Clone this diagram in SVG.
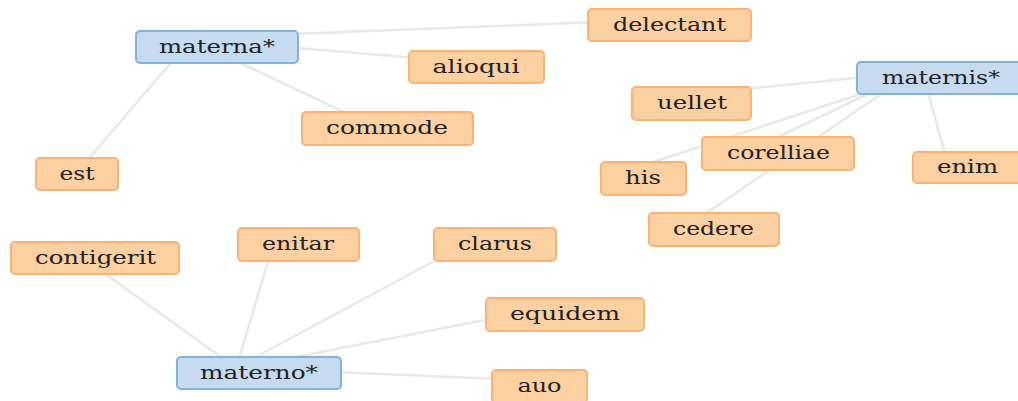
<svg xmlns="http://www.w3.org/2000/svg" width="1018" height="401" viewBox="0 0 1018 401">
<style>
.e{stroke:#e8e8e8;stroke-width:2.5;fill:none}
.o rect{fill:#fdd0a2;stroke:#fdb273;stroke-width:2}
.b rect{fill:#c6dbef;stroke:#7fb5dc;stroke-width:2}
text{font-family:"DejaVu Serif","Liberation Serif",serif;font-size:18px;fill:#222;text-anchor:middle}
</style>
<rect width="1018" height="401" fill="#fff"/>
<g id="connectors">
<line class="e" x1="240" y1="36" x2="650" y2="20"/>
<line class="e" x1="240" y1="43" x2="440" y2="60"/>
<line class="e" x1="230" y1="58" x2="350" y2="115"/>
<line class="e" x1="175" y1="58" x2="85" y2="163"/>
<line class="e" x1="100" y1="270" x2="225" y2="360"/>
<line class="e" x1="270" y1="255" x2="238" y2="362"/>
<line class="e" x1="440" y1="258" x2="250" y2="360"/>
<line class="e" x1="490" y1="319" x2="290" y2="358"/>
<line class="e" x1="335" y1="372" x2="500" y2="379"/>
<line class="e" x1="745" y1="89" x2="865" y2="77"/>
<line class="e" x1="650" y1="163" x2="870" y2="91"/>
<line class="e" x1="770" y1="141" x2="880" y2="88"/>
<line class="e" x1="705" y1="214" x2="890" y2="88"/>
<line class="e" x1="928" y1="92" x2="945" y2="154"/>
</g>
<g id="materna" class="b"><rect x="136" y="31" width="162" height="32" rx="4"/><text x="217" y="52.5" textLength="116" lengthAdjust="spacingAndGlyphs">materna*</text></g>
<g id="delectant" class="o"><rect x="588" y="9" width="163" height="32" rx="4"/><text x="669.5" y="30.5" textLength="113" lengthAdjust="spacingAndGlyphs">delectant</text></g>
<g id="alioqui" class="o"><rect x="409" y="51" width="135" height="32" rx="4"/><text x="476" y="72.5" textLength="87" lengthAdjust="spacingAndGlyphs">alioqui</text></g>
<g id="commode" class="o"><rect x="302" y="112" width="171" height="33" rx="4"/><text x="387" y="133.5" textLength="122" lengthAdjust="spacingAndGlyphs">commode</text></g>
<g id="est" class="o"><rect x="36" y="158" width="82" height="32" rx="4"/><text x="77" y="179.5" textLength="35" lengthAdjust="spacingAndGlyphs">est</text></g>
<g id="maternis" class="b"><rect x="857" y="62" width="166" height="32" rx="4"/><text x="941" y="83.5" textLength="118" lengthAdjust="spacingAndGlyphs">maternis*</text></g>
<g id="uellet" class="o"><rect x="632" y="87" width="119" height="33" rx="4"/><text x="692" y="108.5" textLength="70" lengthAdjust="spacingAndGlyphs">uellet</text></g>
<g id="corelliae" class="o"><rect x="702" y="137" width="152" height="33" rx="4"/><text x="778.5" y="158.5" textLength="103" lengthAdjust="spacingAndGlyphs">corelliae</text></g>
<g id="his" class="o"><rect x="601" y="162" width="85" height="33" rx="4"/><text x="643" y="183.5" textLength="36" lengthAdjust="spacingAndGlyphs">his</text></g>
<g id="enim" class="o"><rect x="913" y="152" width="110" height="31" rx="4"/><text x="967.5" y="172.5" textLength="61" lengthAdjust="spacingAndGlyphs">enim</text></g>
<g id="cedere" class="o"><rect x="649" y="213" width="130" height="33" rx="4"/><text x="713.5" y="234.5" textLength="81" lengthAdjust="spacingAndGlyphs">cedere</text></g>
<g id="contigerit" class="o"><rect x="11" y="242" width="168" height="32" rx="4"/><text x="95.5" y="263.5" textLength="121" lengthAdjust="spacingAndGlyphs">contigerit</text></g>
<g id="enitar" class="o"><rect x="238" y="228" width="121" height="33" rx="4"/><text x="298" y="249.5" textLength="72" lengthAdjust="spacingAndGlyphs">enitar</text></g>
<g id="clarus" class="o"><rect x="434" y="228" width="122" height="33" rx="4"/><text x="495" y="249.5" textLength="74" lengthAdjust="spacingAndGlyphs">clarus</text></g>
<g id="equidem" class="o"><rect x="486" y="298" width="158" height="33" rx="4"/><text x="565" y="319.5" textLength="110" lengthAdjust="spacingAndGlyphs">equidem</text></g>
<g id="materno" class="b"><rect x="177" y="357" width="164" height="32" rx="4"/><text x="259" y="378.5" textLength="118" lengthAdjust="spacingAndGlyphs">materno*</text></g>
<g id="auo" class="o"><rect x="492" y="370" width="95" height="33" rx="4"/><text x="539.5" y="391.5" textLength="44" lengthAdjust="spacingAndGlyphs">auo</text></g>
</svg>
